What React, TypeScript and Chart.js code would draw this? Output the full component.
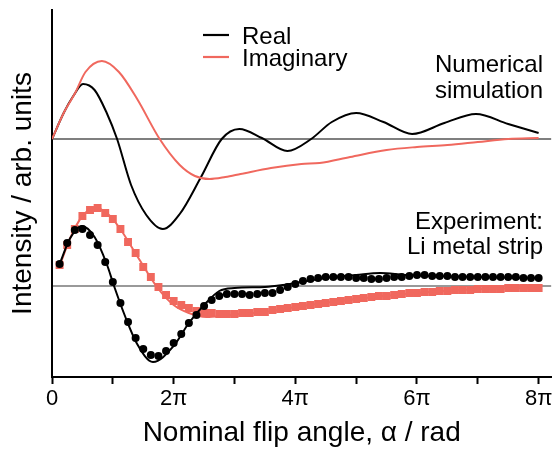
import React, { useEffect, useRef } from 'react';
import { Chart, registerables } from 'chart.js';

Chart.register(...registerables);

const FONT = "'Liberation Sans', Arial, Helvetica, sans-serif";
const BLACK = '#000000';
const RED = 'rgb(240,104,94)';

// x in units of π
const X_TICKS = [0, 1, 2, 3, 4, 5, 6, 7, 8];
const X_TICK_LABELS = ['0', '', '2π', '', '4π', '', '6π', '', '8π'];

// Numerical simulation (relative to its own zero line)
const SIM_REAL_X = [0, 0.2, 0.35, 0.51, 0.7, 0.9, 1.07, 1.3, 1.55, 1.82, 2.1, 2.45, 2.79, 3.08, 3.45, 3.87, 4.26, 4.6, 5.0, 5.45, 5.92, 6.45, 6.97, 7.5, 8.0];
const SIM_REAL_Y = [0, 2.7, 4.3, 5.5, 4.9, 2.6, 0, -4.6, -7.6, -9.0, -7.5, -3.8, 0, 1.0, 0.1, -1.2, 0, 1.7, 2.6, 1.7, 0.5, 1.6, 2.5, 1.5, 0.6];
const SIM_IMAG_X = [0, 0.2, 0.38, 0.55, 0.82, 1.1, 1.4, 1.77, 2.1, 2.35, 2.59, 2.85, 3.1, 3.6, 4.1, 4.4, 4.9, 5.5, 6.0, 6.5, 7.0, 7.5, 8.0];
const SIM_IMAG_Y = [0, 2.7, 4.6, 6.7, 7.8, 6.7, 4.0, 0, -2.6, -3.7, -4.0, -3.8, -3.5, -2.9, -2.5, -2.4, -1.8, -1.1, -0.8, -0.6, -0.3, 0, 0.1];

// Experiment (relative to its own zero line)
const EXP_X = [0.125, 0.25, 0.375, 0.5, 0.625, 0.75, 0.875, 1, 1.125, 1.25, 1.375, 1.5, 1.625, 1.75, 1.875, 2,
  2.125, 2.25, 2.375, 2.5, 2.625, 2.75, 2.875, 3, 3.125, 3.25, 3.375, 3.5, 3.625, 3.75, 3.875, 4,
  4.125, 4.25, 4.375, 4.5, 4.625, 4.75, 4.875, 5, 5.125, 5.25, 5.375, 5.5, 5.625, 5.75, 5.875, 6,
  6.125, 6.25, 6.375, 6.5, 6.625, 6.75, 6.875, 7, 7.125, 7.25, 7.375, 7.5, 7.625, 7.75, 7.875, 8];
const EXP_REAL = [2.2, 4.3, 5.6, 5.7, 5.1, 4.1, 2.4, 0.4, -1.7, -3.6, -5.2, -6.3, -6.9, -7.0, -6.5, -5.7,
  -4.8, -3.7, -2.9, -2.0, -1.4, -1.0, -0.8, -0.8, -0.8, -0.9, -0.8, -0.7, -0.7, -0.4, -0.1, 0.2,
  0.5, 0.7, 0.8, 0.9, 0.9, 0.9, 0.9, 0.8, 0.8, 0.7, 0.7, 0.8, 0.9, 0.9, 1.0, 1.1,
  1.1, 1.0, 1.0, 1.0, 0.9, 0.9, 0.9, 0.9, 0.9, 0.9, 0.9, 0.9, 0.9, 0.8, 0.8, 0.8];
const EXP_IMAG = [2.1, 4.1, 5.7, 7.0, 7.6, 7.8, 7.3, 6.7, 5.7, 4.4, 3.3, 1.9, 0.9, -0.1, -0.9, -1.5,
  -1.9, -2.2, -2.5, -2.7, -2.7, -2.8, -2.8, -2.8, -2.7, -2.7, -2.6, -2.6, -2.4, -2.3, -2.2, -2.1,
  -2.0, -1.9, -1.8, -1.7, -1.6, -1.5, -1.4, -1.3, -1.2, -1.1, -1.0, -1.0, -0.9, -0.8, -0.7, -0.7,
  -0.6, -0.6, -0.5, -0.5, -0.4, -0.4, -0.4, -0.3, -0.3, -0.3, -0.3, -0.2, -0.2, -0.2, -0.2, -0.2];
const FIT_REAL_X = [0.125, 0.3, 0.49, 0.7, 0.9, 1.02, 1.2, 1.4, 1.66, 2.0, 2.25, 2.5, 2.75, 3.0, 3.5, 3.8, 4.0, 4.5, 5.0, 5.4, 5.8, 6.3, 7.0, 8.0];
const FIT_REAL_Y = [2.2, 4.8, 6.0, 4.9, 2.2, 0, -3.0, -5.8, -7.6, -6.0, -3.7, -1.9, -0.5, -0.2, -0.1, 0.1, 0.3, 0.8, 1.1, 1.3, 1.1, 1.0, 0.9, 0.8];
const FIT_IMAG_X = [0.125, 0.3, 0.5, 0.72, 0.9, 1.1, 1.4, 1.75, 2.0, 2.25, 2.54, 2.8, 3.1, 3.5, 4.0, 5.0, 6.0, 7.0, 8.0];
const FIT_IMAG_Y = [2.0, 4.8, 7.0, 7.8, 7.3, 5.9, 3.0, -0.3, -1.9, -2.7, -3.1, -3.0, -2.8, -2.6, -2.1, -1.3, -0.7, -0.3, -0.2];

const SIM_OFFSET = 14.7;
const EXP_OFFSET = 0;
const Y_MIN = -9.1;
const Y_MAX = 27.6;
const X_MIN = 0;
const X_MAX = 8.21;

const LEGEND = [
  { label: 'Real', color: BLACK },
  { label: 'Imaginary', color: RED },
];
const SIM_TEXT = ['Numerical', 'simulation'];
const EXP_TEXT = ['Experiment:', 'Li metal strip'];

const pts = (xs: number[], ys: number[], off: number) => xs.map((x, i) => ({ x, y: ys[i] + off }));

const textPlugin = {
  id: 'textPlugin',
  afterDraw(chart: any) {
    const ctx = chart.ctx;
    ctx.save();
    ctx.fillStyle = BLACK;
    ctx.font = `24px ${FONT}`;
    // legend
    ctx.textAlign = 'left';
    ctx.textBaseline = 'alphabetic';
    LEGEND.forEach((item, i) => {
      const ly = 35 + i * 22;
      ctx.strokeStyle = item.color;
      ctx.lineWidth = 2.2;
      ctx.beginPath();
      ctx.moveTo(203, ly);
      ctx.lineTo(229, ly);
      ctx.stroke();
      ctx.fillText(item.label, 242, ly + 8.5);
    });
    ctx.textAlign = 'right';
    SIM_TEXT.forEach((t, i) => ctx.fillText(t, 543, 72 + i * 25.5));
    EXP_TEXT.forEach((t, i) => ctx.fillText(t, 543, 229 + i * 25));
    ctx.restore();
  },
};

export default function App() {
  const ref = useRef<HTMLCanvasElement | null>(null);
  useEffect(() => {
    if (!ref.current) return;
    Chart.defaults.font.family = FONT;
    Chart.defaults.color = BLACK;
    const chart = new Chart(ref.current, {
      type: 'scatter',
      data: {
        datasets: [
          {
            label: 'exp-real-fit', data: pts(FIT_REAL_X, FIT_REAL_Y, EXP_OFFSET), showLine: true,
            borderColor: BLACK, borderWidth: 2, pointRadius: 0, cubicInterpolationMode: 'monotone',
          },
          {
            label: 'exp-real', data: pts(EXP_X, EXP_REAL, EXP_OFFSET), showLine: false,
            pointStyle: 'circle', pointRadius: 4, backgroundColor: BLACK, borderWidth: 0,
          },
          {
            label: 'exp-imag-fit', data: pts(FIT_IMAG_X, FIT_IMAG_Y, EXP_OFFSET), showLine: true,
            borderColor: RED, borderWidth: 2, pointRadius: 0, cubicInterpolationMode: 'monotone',
          },
          {
            label: 'exp-imag', data: pts(EXP_X, EXP_IMAG, EXP_OFFSET), showLine: false,
            pointStyle: 'rect', pointRadius: 5.6, backgroundColor: RED, borderWidth: 0,
          },
          {
            label: 'Imaginary', data: pts(SIM_IMAG_X, SIM_IMAG_Y, SIM_OFFSET), showLine: true,
            borderColor: RED, borderWidth: 2, pointRadius: 0, cubicInterpolationMode: 'monotone',
          },
          {
            label: 'Real', data: pts(SIM_REAL_X, SIM_REAL_Y, SIM_OFFSET), showLine: true,
            borderColor: BLACK, borderWidth: 2, pointRadius: 0, cubicInterpolationMode: 'monotone',
          },
          {
            label: 'sim-zero', data: [{ x: X_MIN, y: SIM_OFFSET }, { x: X_MAX, y: SIM_OFFSET }], showLine: true,
            borderColor: BLACK, borderWidth: 1.2, pointRadius: 0,
          },
          {
            label: 'exp-zero', data: [{ x: X_MIN, y: EXP_OFFSET }, { x: X_MAX, y: EXP_OFFSET }], showLine: true,
            borderColor: 'rgba(0,0,0,0.8)', borderWidth: 1.2, pointRadius: 0,
          },
        ],
      },
      options: {
        responsive: false,
        animation: false,
        devicePixelRatio: 1,
        layout: { padding: { top: 10, right: 4, left: 0, bottom: 0 } },
        plugins: { legend: { display: false }, tooltip: { enabled: false } },
        scales: {
          x: {
            type: 'linear', min: X_MIN, max: X_MAX,
            afterFit: (s: any) => { s.height = 73; },
            afterBuildTicks: (s: any) => { s.ticks = X_TICKS.map((v) => ({ value: v })); },
            ticks: {
              includeBounds: false,
              padding: 2,
              font: { size: 22 },
              color: BLACK,
              maxRotation: 0,
              autoSkip: false,
              callback: (v: any) => X_TICK_LABELS[X_TICKS.indexOf(Number(v))] ?? '',
            },
            grid: { display: true, drawOnChartArea: false, drawTicks: true, tickLength: 7, tickWidth: 2, tickColor: BLACK },
            border: { display: true, color: BLACK, width: 2 },
            title: { display: true, text: 'Nominal flip angle, α / rad', font: { size: 28 }, color: BLACK, padding: { top: 0, bottom: 0 } },
          },
          y: {
            type: 'linear', min: Y_MIN, max: Y_MAX,
            afterFit: (s: any) => { s.width = 52; },
            ticks: { display: false },
            grid: { display: false, drawTicks: false },
            border: { display: true, color: BLACK, width: 2 },
            title: { display: true, text: 'Intensity / arb. units', font: { size: 28 }, color: BLACK, padding: { top: 6, bottom: 0 } },
          },
        },
      },
      plugins: [textPlugin],
    } as any);
    return () => chart.destroy();
  }, []);
  return (
    <div style={{ position: 'fixed', left: 0, top: 0, width: 557, height: 450, background: '#fff' }}>
      <canvas ref={ref} width={557} height={450} style={{ width: 557, height: 450, display: 'block' }} />
    </div>
  );
}
